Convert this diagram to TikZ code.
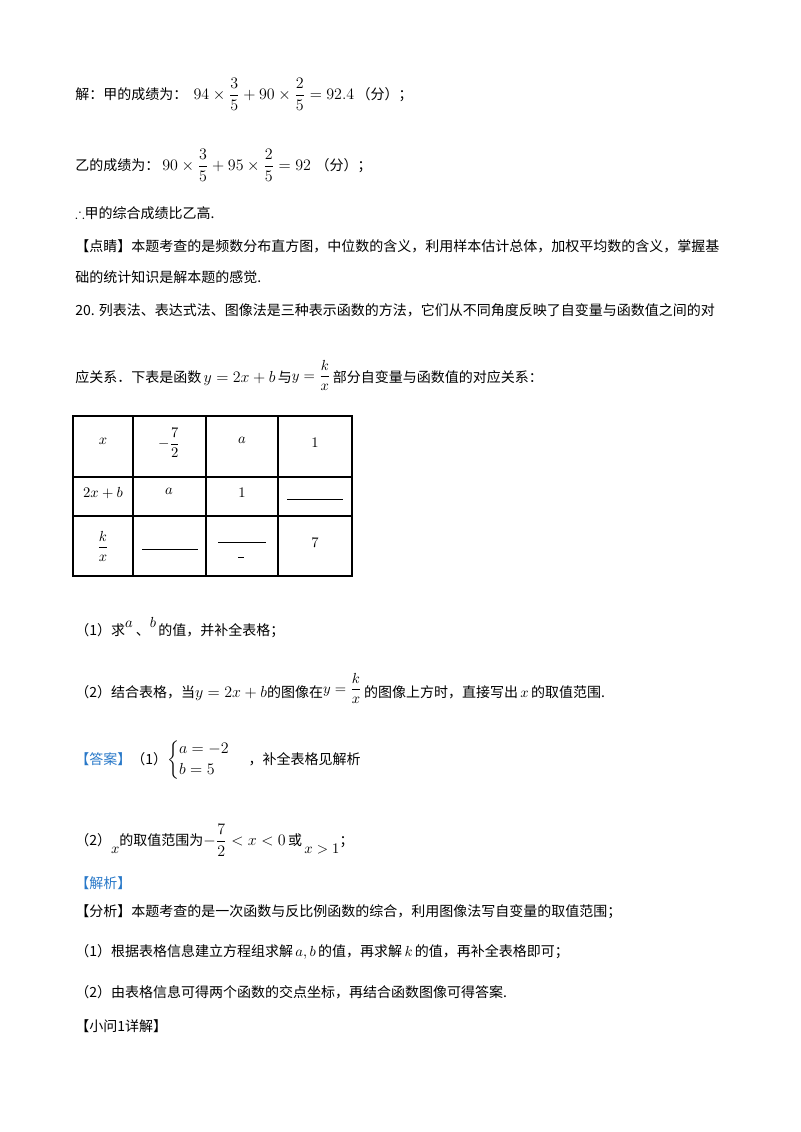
\documentclass[tikz,border=0pt]{standalone}
\usepackage{amsmath,amssymb}
\usepackage{fontspec}
\setmainfont{Noto Sans CJK SC}
\definecolor{ansblue}{RGB}{40,120,200}
\begin{document}
\begin{tikzpicture}[x=0.75pt,y=-0.75pt,
  txt/.style={anchor=west,inner sep=0pt,font=\fontsize{10.5pt}{12pt}\selectfont},
  cell/.style={inner sep=0pt,font=\fontsize{11pt}{12pt}\selectfont}]
\useasboundingbox (0,0) rectangle (800,1132);
\node[txt] (l1) at (75,94) {解：甲的成绩为：\ \ {\fontsize{12pt}{13pt}\selectfont$\displaystyle 94\times\frac{3}{5}+90\times\frac{2}{5}=92.4$}\,（分）；};
\node[txt] (l2) at (75,165) {乙的成绩为：\ {\fontsize{12pt}{13pt}\selectfont$\displaystyle 90\times\frac{3}{5}+95\times\frac{2}{5}=92$}\,\,（分）；};
\node[txt] (l3) at (75,213) {$\therefore$甲的综合成绩比乙高.};
\node[txt] (l4) at (75,246) {【点睛】本题考查的是频数分布直方图，中位数的含义，利用样本估计总体，加权平均数的含义，掌握基};
\node[txt] (l5) at (75,277) {础的统计知识是解本题的感觉.};
\node[txt] (l6) at (75,310) {20. 列表法、表达式法、图像法是三种表示函数的方法，它们从不同角度反映了自变量与函数值之间的对};
\node[txt] (l7) at (75,375) {应关系．下表是函数\,{\fontsize{12pt}{13pt}\selectfont$y=2x+b$}\,与\raisebox{2pt}{$\displaystyle y=\frac{k}{x}$}\,部分自变量与函数值的对应关系：};
% table
\draw[line width=0.9pt] (73,416) rectangle (352,576);
\foreach \xx in {133,206,278} \draw[line width=0.9pt] (\xx,416) -- (\xx,576);
\foreach \yy in {477,516} \draw[line width=0.9pt] (73,\yy) -- (352,\yy);
\node[cell] (c11) at (103,441) {$x$};
\node[cell] (c12) at (169,443) {$-\dfrac{7}{2}$};
\node[cell] (c13) at (242,440) {$a$};
\node[cell] (c14) at (315,443) {$1$};
\node[cell] (c21) at (103,493) {$2x+b$};
\node[cell] (c22) at (169,491) {$a$};
\node[cell] (c23) at (242,493) {$1$};
\draw (287,499) -- (343,499);
\node[cell] (c31) at (103,546) {$\dfrac{k}{x}$};
\draw (142,549) -- (198,549);
\draw (218,542) -- (266,542);
\draw (238,557) -- (244,557);
\node[cell] (c34) at (315,543) {$7$};
\node[txt] (l8) at (75,628) {（1）求\raisebox{6pt}{$a$}\ 、\raisebox{6pt}{$b$}\,的值，并补全表格；};
\node[txt] (l9) at (75,688) {（2）结合表格，当{\fontsize{12pt}{13pt}\selectfont$y=2x+b$}的图像在\raisebox{3pt}{$\displaystyle y=\frac{k}{x}$}\,的图像上方时，直接写出\,$x$\,的取值范围.};
\node[txt] (l10) at (75,760) {\textcolor{ansblue}{【答案】}（1）{\fontsize{12pt}{13pt}\selectfont$\begin{cases}a=-2\\b=5\end{cases}$}\,，补全表格见解析};
\node[txt] (l11) at (75,840) {（2）\raisebox{-6pt}{$x$}的取值范围为{\fontsize{12pt}{13pt}\selectfont$\displaystyle -\frac{7}{2}<x<0$}\,或\,\raisebox{-6pt}{$x>1$}；};
\node[txt] (l12) at (75,883) {\textcolor{ansblue}{【解析】}};
\node[txt] (l13) at (75,912) {【分析】本题考查的是一次函数与反比例函数的综合，利用图像法写自变量的取值范围；};
\node[txt] (l14) at (75,952) {（1）根据表格信息建立方程组求解\,$a,b$\,的值，再求解\,$k$\,的值，再补全表格即可；};
\node[txt] (l15) at (75,992) {（2）由表格信息可得两个函数的交点坐标，再结合函数图像可得答案.};
\node[txt] (l16) at (75,1026) {【小问1详解】};
\end{tikzpicture}
\end{document}
